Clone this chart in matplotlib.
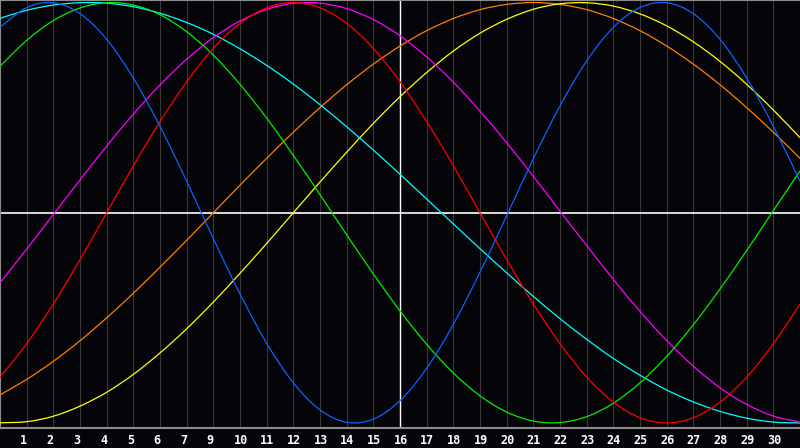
import matplotlib
matplotlib.use("Agg")
import matplotlib.pyplot as plt
import matplotlib.transforms as mtransforms
from matplotlib.path import Path
from matplotlib.patches import PathPatch

# day index 0..30 along the x axis
days = list(range(31))

# curve values in percent (-100 .. 100)
blue = [88.2, 97.6, 99.9, 94.7, 82.5, 64.1, 41.1, 15.0, -12.3, -38.6, -62.1, -80.9,
        -93.8, -99.7, -98.2, -89.4, -74.0, -53.1, -28.3, -1.4, 25.7, 50.8, 72.2, 88.2,
        97.6, 99.9, 94.7, 82.5, 64.1, 41.1, 15.0]
red = [-78.2, -62.3, -43.4, -22.3, 0.0, 22.3, 43.4, 62.3, 78.2, 90.1, 97.5, 100.0,
       97.5, 90.1, 78.2, 62.3, 43.4, 22.3, 0.0, -22.3, -43.4, -62.3, -78.2, -90.1,
       -97.5, -100.0, -97.5, -90.1, -78.2, -62.3, -43.4]
green = [69.7, 82.0, 91.4, 97.4, 99.9, 98.8, 94.2, 86.1, 75.0, 61.1, 45.0, 27.3,
         8.6, -10.5, -29.1, -46.7, -62.6, -76.2, -87.1, -94.8, -99.1, -99.8, -97.0,
         -90.6, -80.9, -68.3, -53.3, -36.3, -18.0, 1.0, 19.9]
magenta = [-33.3, -17.3, -0.8, 15.6, 31.7, 46.9, 60.8, 73.0, 83.3, 91.2, 96.7, 99.6,
           99.7, 97.1, 91.9, 84.2, 74.1, 62.1, 48.3, 33.3, 17.3, 0.8, -15.6, -31.7,
           -46.9, -60.8, -73.0, -83.3, -91.2, -96.7, -99.6]
cyan = [92.5, 96.3, 98.8, 99.9, 99.7, 98.0, 94.9, 90.5, 84.9, 78.0, 70.1, 61.2,
        51.4, 40.9, 29.8, 18.3, 6.5, -5.3, -17.1, -28.6, -39.8, -50.4, -60.2, -69.3,
        -77.3, -84.3, -90.0, -94.5, -97.7, -99.6, -100.0]
orange = [-86.6, -79.3, -70.7, -60.9, -50.0, -38.3, -25.9, -13.1, 0.0, 13.1, 25.9, 38.3,
          50.0, 60.9, 70.7, 79.3, 86.6, 92.4, 96.6, 99.1, 100.0, 99.1, 96.6, 92.4,
          86.6, 79.3, 70.7, 60.9, 50.0, 38.3, 25.9]
yellow = [-99.9, -99.4, -96.8, -92.0, -85.4, -76.9, -66.7, -55.2, -42.5, -28.8, -14.6, 0.0,
          14.6, 28.8, 42.5, 55.2, 66.7, 76.9, 85.4, 92.0, 96.8, 99.4, 99.9, 98.3,
          94.6, 88.9, 81.3, 72.0, 61.1, 48.9, 35.7]

# tick labels as printed under the grid lines (the chart skips "8")
tick_pos = list(range(1, 30))
tick_labels = ["1", "2", "3", "4", "5", "6", "7", "9", "10", "11", "12", "13", "14", "15",
               "16", "17", "18", "19", "20", "21", "22", "23", "24", "25", "26", "27",
               "28", "29", "30"]

series = [
    (orange, "#ff7f00"),
    (yellow, "#ffff00"),
    (cyan, "#00ffff"),
    (magenta, "#ff00ff"),
    (green, "#00ee00"),
    (red, "#ff0000"),
    (blue, "#0a64ff"),
]


def smooth_path(xs, ys):
    # Catmull-Rom through the points, drawn as cubic bezier segments
    pts = list(zip(xs, ys))
    verts = [pts[0]]
    codes = [Path.MOVETO]
    n = len(pts)
    for i in range(n - 1):
        p0 = pts[max(i - 1, 0)]
        p1 = pts[i]
        p2 = pts[i + 1]
        p3 = pts[min(i + 2, n - 1)]
        c1 = (p1[0] + (p2[0] - p0[0]) / 6, p1[1] + (p2[1] - p0[1]) / 6)
        c2 = (p2[0] - (p3[0] - p1[0]) / 6, p2[1] - (p3[1] - p1[1]) / 6)
        verts += [c1, c2, p2]
        codes += [Path.CURVE4] * 3
    return Path(verts, codes)


bg = "#050409"
fig = plt.figure(figsize=(8, 4.48), dpi=100, facecolor=bg)
ax = fig.add_axes([0, 20 / 448, 1, 428 / 448])
ax.set_facecolor(bg)

for x in tick_pos:
    ax.axvline(x, color="#383838", lw=0.8, zorder=1)
ax.axvline(15, color="white", lw=1.0, zorder=2)
ax.axhline(0, color="white", lw=1.2, zorder=2)

for vals, col in series:
    ax.add_patch(PathPatch(smooth_path(days, vals), fill=False, edgecolor=col,
                           lw=0.9, zorder=3))

ax.set_xlim(0, 30)
ax.set_ylim(-102.4, 101.2)
ax.set_yticks([])
ax.set_xticks(tick_pos)
ax.set_xticklabels(tick_labels, ha="left", color="white", fontsize=8.5,
                   fontweight="bold", family="DejaVu Sans Mono")
ax.tick_params(axis="x", length=0, pad=4)
offset = mtransforms.ScaledTranslation(-6.5 / 100, 0, fig.dpi_scale_trans)
for lab in ax.get_xticklabels():
    lab.set_transform(lab.get_transform() + offset)

for side in ["left", "top", "bottom"]:
    ax.spines[side].set_color("#8c8c8c")
    ax.spines[side].set_linewidth(1.5)
ax.spines["right"].set_visible(False)

fig.savefig("out.png", dpi=100, facecolor=bg)
